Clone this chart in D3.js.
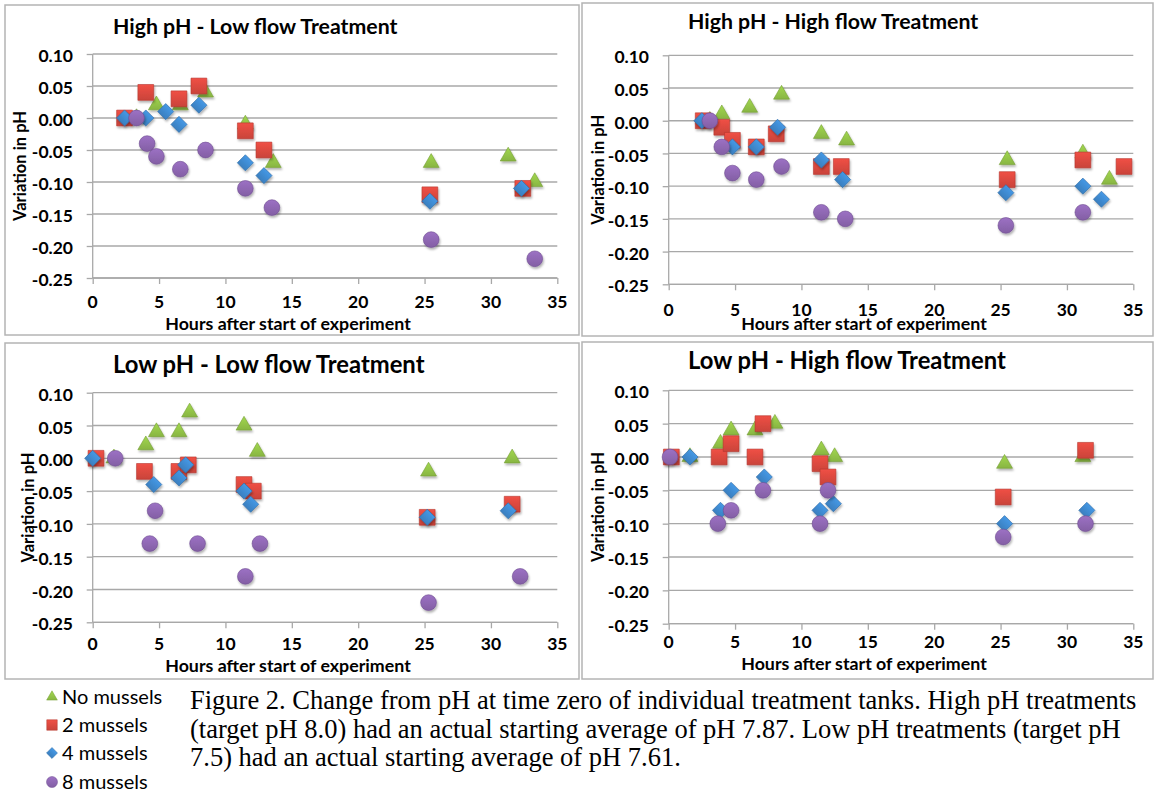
<!DOCTYPE html>
<html><head><meta charset="utf-8">
<script src="https://cdn.jsdelivr.net/npm/d3@7"></script>
<style>body{margin:0;background:#fff} svg{display:block}</style>
</head><body><svg id="c" width="1156" height="795"></svg>
<script>
// ---------- data ----------
const seriesNames = ["No mussels", "2 mussels", "4 mussels", "8 mussels"];
const panelTitles = ["High pH - Low flow Treatment", "High pH - High flow Treatment",
                     "Low pH - Low flow Treatment", "Low pH - High flow Treatment"];
const xTickValues = [0, 5, 10, 15, 20, 25, 30, 35];
const yTickValues = [0.10, 0.05, 0.00, -0.05, -0.10, -0.15, -0.20, -0.25];
const xAxisTitle = "Hours after start of experiment";
const yAxisTitle = "Variation in pH";

// High pH - Low flow
const hiLowNone  = [[3.3,0],[4.8,0.02],[6.6,0.02],[8.5,0.04],[11.5,-0.01],[13.6,-0.07],[25.5,-0.07],[31.3,-0.06],[33.3,-0.10]];
const hiLowTwo   = [[2.4,0],[4.0,0.04],[6.5,0.03],[8.0,0.05],[11.5,-0.02],[12.9,-0.05],[25.4,-0.12],[32.4,-0.11]];
const hiLowFour  = [[2.4,0],[4.0,0],[5.5,0.01],[6.5,-0.01],[8.0,0.02],[11.5,-0.07],[12.9,-0.09],[25.4,-0.13],[32.3,-0.11]];
const hiLowEight = [[3.3,0],[4.1,-0.04],[4.8,-0.06],[6.6,-0.08],[8.5,-0.05],[11.5,-0.11],[13.5,-0.14],[25.5,-0.19],[33.3,-0.22]];
// High pH - High flow
const hiHighNone  = [[3.1,0],[4.0,0.01],[6.1,0.02],[8.5,0.04],[11.5,-0.02],[13.4,-0.03],[25.5,-0.06],[31.2,-0.05],[33.2,-0.09]];
const hiHighTwo   = [[2.6,0],[4.0,-0.01],[4.8,-0.03],[6.6,-0.04],[8.1,-0.02],[11.5,-0.07],[13.0,-0.07],[25.5,-0.09],[31.2,-0.06],[34.3,-0.07]];
const hiHighFour  = [[2.5,0],[4.8,-0.04],[6.6,-0.04],[8.2,-0.01],[11.5,-0.06],[13.1,-0.09],[25.4,-0.11],[31.2,-0.10],[32.6,-0.12]];
const hiHighEight = [[3.1,0],[4.0,-0.04],[4.8,-0.08],[6.6,-0.09],[8.5,-0.07],[11.5,-0.14],[13.3,-0.15],[25.4,-0.16],[31.2,-0.14]];
// Low pH - Low flow
const loLowNone  = [[1.6,0],[4.0,0.02],[4.8,0.04],[6.5,0.04],[7.3,0.07],[11.4,0.05],[12.4,0.01],[25.3,-0.02],[31.6,0]];
const loLowTwo   = [[0.25,0],[3.9,-0.02],[6.5,-0.02],[7.2,-0.01],[11.4,-0.04],[12.1,-0.05],[25.2,-0.09],[31.6,-0.07]];
const loLowFour  = [[0,0],[4.6,-0.04],[6.5,-0.03],[7.0,-0.01],[11.4,-0.05],[11.9,-0.07],[25.2,-0.09],[31.3,-0.08]];
const loLowEight = [[1.7,0],[4.3,-0.13],[4.7,-0.08],[7.9,-0.13],[11.5,-0.18],[12.6,-0.13],[25.3,-0.22],[32.2,-0.18]];
// Low pH - High flow
const loHighNone  = [[1.6,0],[3.9,0.02],[4.7,0.04],[6.5,0.04],[8.0,0.05],[11.5,0.01],[12.5,0],[25.3,-0.01],[31.2,0]];
const loHighTwo   = [[0.2,0],[3.8,0],[4.7,0.02],[6.5,0],[7.1,0.05],[11.4,-0.01],[12.0,-0.03],[25.2,-0.06],[31.4,0.01]];
const loHighFour  = [[1.6,0],[3.9,-0.08],[4.7,-0.05],[7.2,-0.03],[11.4,-0.08],[12.4,-0.07],[25.3,-0.10],[31.5,-0.08]];
const loHighEight = [[0.1,0],[3.7,-0.10],[4.7,-0.08],[7.1,-0.05],[11.4,-0.10],[12.0,-0.05],[25.2,-0.12],[31.4,-0.10]];

const captionLines = [
  "Figure 2. Change from pH at time zero of individual treatment tanks. High pH treatments",
  "(target pH 8.0) had an actual starting average of pH 7.87. Low pH treatments (target pH",
  "7.5) had an actual starting average of pH 7.61."
];

const panelData = [
  [hiLowNone, hiLowTwo, hiLowFour, hiLowEight],
  [hiHighNone, hiHighTwo, hiHighFour, hiHighEight],
  [loLowNone, loLowTwo, loLowFour, loLowEight],
  [loHighNone, loHighTwo, loHighFour, loHighEight]
];

// ---------- layout / style ----------
const colors = ["#8fbf46", "#d4473d", "#3d86ca", "#8a64ad"];
const strokes = ["#769e36", "#b5382f", "#2f6ea8", "#6f4e90"];
const layout = [
  {frame:[5,5,579,335],   plot:[92.7,557.3,54,278],   title:[113,27,21.3],  xlab:[288,324], ylab:[20], xtY:302, ytX:73},
  {frame:[582,3,1153,336],plot:[668.7,1133.3,55.3,284.3], title:[688,22,21.3], xlab:[864,324], ylab:[598], xtY:310, ytX:649},
  {frame:[5,343,579,679], plot:[92.7,557.3,392.7,622.3], title:[113,365,23.8], xlab:[288,666], ylab:[28], xtY:644, ytX:73},
  {frame:[582,342,1153,679],plot:[668.7,1133.3,390.3,623.7], title:[688,361,23.8], xlab:[864,664], ylab:[598], xtY:642, ytX:649}
];
const font = "Lato, 'Open Sans', sans-serif";
const fmt = v => d3.format(".2f")(v).replace("\u2212", "-");

const svg = d3.select("#c");
const defs = svg.append("defs");
const f = defs.append("filter").attr("id","sh").attr("x","-50%").attr("y","-50%").attr("width","200%").attr("height","200%");
f.append("feDropShadow").attr("dx",1).attr("dy",2).attr("stdDeviation",1.2).attr("flood-color","#000").attr("flood-opacity",0.3);
colors.forEach((c,i) => {
  const g = defs.append("linearGradient").attr("id","g"+i).attr("x1",0).attr("y1",0).attr("x2",0).attr("y2",1);
  g.append("stop").attr("offset","0%").attr("stop-color", d3.color(c).brighter(0.35));
  g.append("stop").attr("offset","100%").attr("stop-color", d3.color(c).darker(0.15));
});

const symbols = [
  d3.symbol().type(d3.symbolTriangle).size(110),
  d3.symbol().type(d3.symbolSquare).size(250),
  d3.symbol().type(d3.symbolSquare).size(130),
  d3.symbol().type(d3.symbolCircle).size(195)
];
const rotations = [0, 0, 45, 0];

layout.forEach((L, pi) => {
  const g = svg.append("g");
  const [fx0, fy0, fx1, fy1] = L.frame;
  g.append("rect").attr("x", fx0).attr("y", fy0).attr("width", fx1 - fx0).attr("height", fy1 - fy0)
    .attr("fill", "#fff").attr("stroke", "#b4b4b4").attr("stroke-width", 1.5);

  const [px0, px1, py0, py1] = L.plot;
  const x = d3.scaleLinear().domain([0, 35]).range([px0, px1]);
  const y = d3.scaleLinear().domain([-0.25, 0.10]).range([py1, py0]);

  // gridlines
  g.append("g").selectAll("line").data(yTickValues).join("line")
    .attr("x1", px0).attr("x2", px1).attr("y1", d => y(d)).attr("y2", d => y(d))
    .attr("stroke", "#a8a8a8").attr("stroke-width", 1.3);

  // y axis
  const ya = g.append("g").attr("transform", `translate(${px0},0)`)
    .call(d3.axisLeft(y).tickValues(yTickValues).tickSize(6).tickFormat(""));
  ya.selectAll("path,line").attr("stroke", "#a8a8a8").attr("stroke-width", 1.3);
  ya.select(".domain").attr("d", `M0,${py0}V${py1}`);
  g.append("g").selectAll("text").data(yTickValues).join("text")
    .attr("x", L.ytX).attr("y", d => y(d) + 2).attr("dy", "0.35em").attr("text-anchor", "end")
    .attr("font-family", font).attr("font-weight", "bold").attr("font-size", 17.5).attr("fill", "#000")
    .text(fmt);

  // x axis
  const xa = g.append("g").attr("transform", `translate(0,${py1})`)
    .call(d3.axisBottom(x).tickValues(xTickValues).tickSize(6).tickFormat(""));
  xa.selectAll("path,line").attr("stroke", "#a8a8a8").attr("stroke-width", 1.3);
  xa.select(".domain").attr("d", `M${px0},0H${px1}`);
  g.append("g").selectAll("text").data(xTickValues).join("text")
    .attr("x", d => x(d)).attr("y", L.xtY).attr("dy", "0.35em").attr("text-anchor", "middle")
    .attr("font-family", font).attr("font-weight", "bold").attr("font-size", 17.5).attr("fill", "#000")
    .text(d => d);

  // titles
  g.append("text").attr("x", L.title[0]).attr("y", L.title[1]).attr("dy", "0.35em")
    .attr("font-family", font).attr("font-weight", "bold").attr("font-size", L.title[2]).text(panelTitles[pi]);
  g.append("text").attr("x", L.xlab[0]).attr("y", L.xlab[1]).attr("dy", "0.35em").attr("text-anchor", "middle")
    .attr("font-family", font).attr("font-weight", "bold").attr("font-size", 17.8).text(xAxisTitle);
  g.append("text").attr("transform", `translate(${L.ylab[0]},${(py0 + py1) / 2}) rotate(-90)`)
    .attr("dy", "0.35em").attr("text-anchor", "middle")
    .attr("font-family", font).attr("font-weight", "bold").attr("font-size", 16.5).text(yAxisTitle);

  // markers
  panelData[pi].forEach((pts, si) => {
    g.append("g").attr("filter", "url(#sh)").selectAll("path").data(pts).join("path")
      .attr("d", symbols[si])
      .attr("transform", d => `translate(${x(d[0])},${y(d[1])}) rotate(${rotations[si]})`)
      .attr("fill", `url(#g${si})`).attr("stroke", strokes[si]).attr("stroke-width", 0.6);
  });
});

// legend
const legendSymbols = [
  d3.symbol().type(d3.symbolTriangle).size(50),
  d3.symbol().type(d3.symbolSquare).size(110),
  d3.symbol().type(d3.symbolSquare).size(60),
  d3.symbol().type(d3.symbolCircle).size(95)
];
const legendY = [697, 725, 753, 782];
const lg = svg.append("g");
seriesNames.forEach((name, i) => {
  lg.append("path").attr("d", legendSymbols[i])
    .attr("transform", `translate(52,${legendY[i]}) rotate(${rotations[i]})`)
    .attr("fill", `url(#g${i})`).attr("stroke", strokes[i]).attr("stroke-width", 0.5);
  lg.append("text").attr("x", 62).attr("y", legendY[i]).attr("dy", "0.35em")
    .attr("font-family", font).attr("font-size", 20).attr("fill", "#000").text(name);
});

// caption
svg.append("g").selectAll("text").data(captionLines).join("text")
  .attr("x", 190).attr("y", (d, i) => 700 + i * 28.5).attr("dy", "0.35em")
  .attr("font-family", "'Liberation Serif', 'Times New Roman', serif").attr("font-size", 26.5).attr("fill", "#000")
  .text(d => d);
</script></body></html>
